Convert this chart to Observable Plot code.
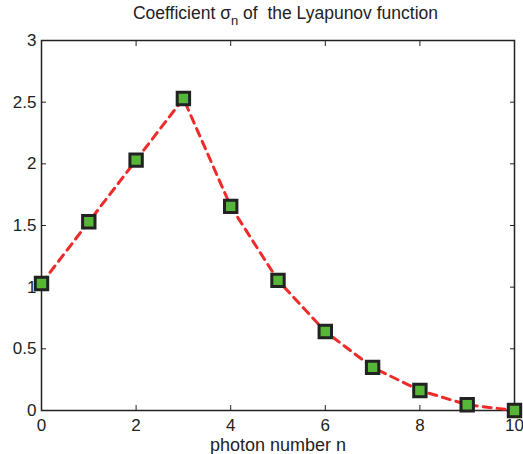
<!DOCTYPE html>
<html><head><meta charset="utf-8">
<script src="https://cdn.jsdelivr.net/npm/d3@7"></script>
<script src="https://cdn.jsdelivr.net/npm/@observablehq/plot@0.6"></script>
<style>
body{margin:0;background:#fff;font-family:"Liberation Sans",Arial,sans-serif;}
#title{height:28px;width:523px;position:relative;overflow:visible;}
#title span{position:absolute;left:0;width:571px;text-align:center;top:3px;font-size:17.5px;line-height:20px;color:#222;white-space:nowrap;}
sub{font-size:13px;vertical-align:-6px;line-height:0;}
</style></head><body>
<div id="title"><span>Coefficient σ<sub>n</sub> of&nbsp; the Lyapunov function</span></div>
<div id="chart"></div>
<script>
const photonN = [0,1,2,3,4,5,6,7,8,9,10];
const sigma = [1.03,1.53,2.03,2.53,1.655,1.055,0.64,0.35,0.162,0.047,0.0];
const xTicks = [0,2,4,6,8,10];
const yTicks = [0,0.5,1,1.5,2,2.5,3];
const xLabel = "photon number n";
const data = photonN.map((n,i)=>({n, s: sigma[i]}));
const fmt = d3.format("~g");
const chart = Plot.plot({
  width: 523, height: 426,
  marginTop: 12, marginBottom: 44, marginLeft: 41, marginRight: 9,
  style: {fontFamily: '"Liberation Sans",Arial,sans-serif', fontSize: "17px", color: "#222", background: "#fff"},
  x: {domain: [0,10], ticks: xTicks},
  y: {domain: [0,3], ticks: yTicks},
  marks: [
    Plot.axisX({ticks: xTicks, tickSize: -5, tickPadding: 13, tickFormat: fmt, label: null, fontSize: 17, stroke: "#222"}),
    Plot.axisX({anchor: "top", ticks: xTicks, tickSize: -5, tickFormat: () => "", label: null, stroke: "#222"}),
    Plot.axisY({ticks: yTicks, tickSize: -5, tickPadding: 10, tickFormat: fmt, label: null, fontSize: 17, stroke: "#222"}),
    Plot.axisY({anchor: "right", ticks: yTicks, tickSize: -5, tickFormat: () => "", label: null, stroke: "#222"}),
    Plot.text([xLabel], {frameAnchor: "bottom", dy: 40, text: d => d, fontSize: 18, fill: "#222"}),
    Plot.frame({stroke: "#222", strokeWidth: 1.5}),
    Plot.line(data, {x: "n", y: "s", stroke: "#ee2a2a", strokeWidth: 3, strokeDasharray: "8,6"}),
    Plot.dot(data, {x: "n", y: "s", symbol: "square", r: 7, fill: "#56b638", stroke: "#222", strokeWidth: 3})
  ]
});
document.getElementById("chart").appendChild(chart);
</script>
</body></html>
